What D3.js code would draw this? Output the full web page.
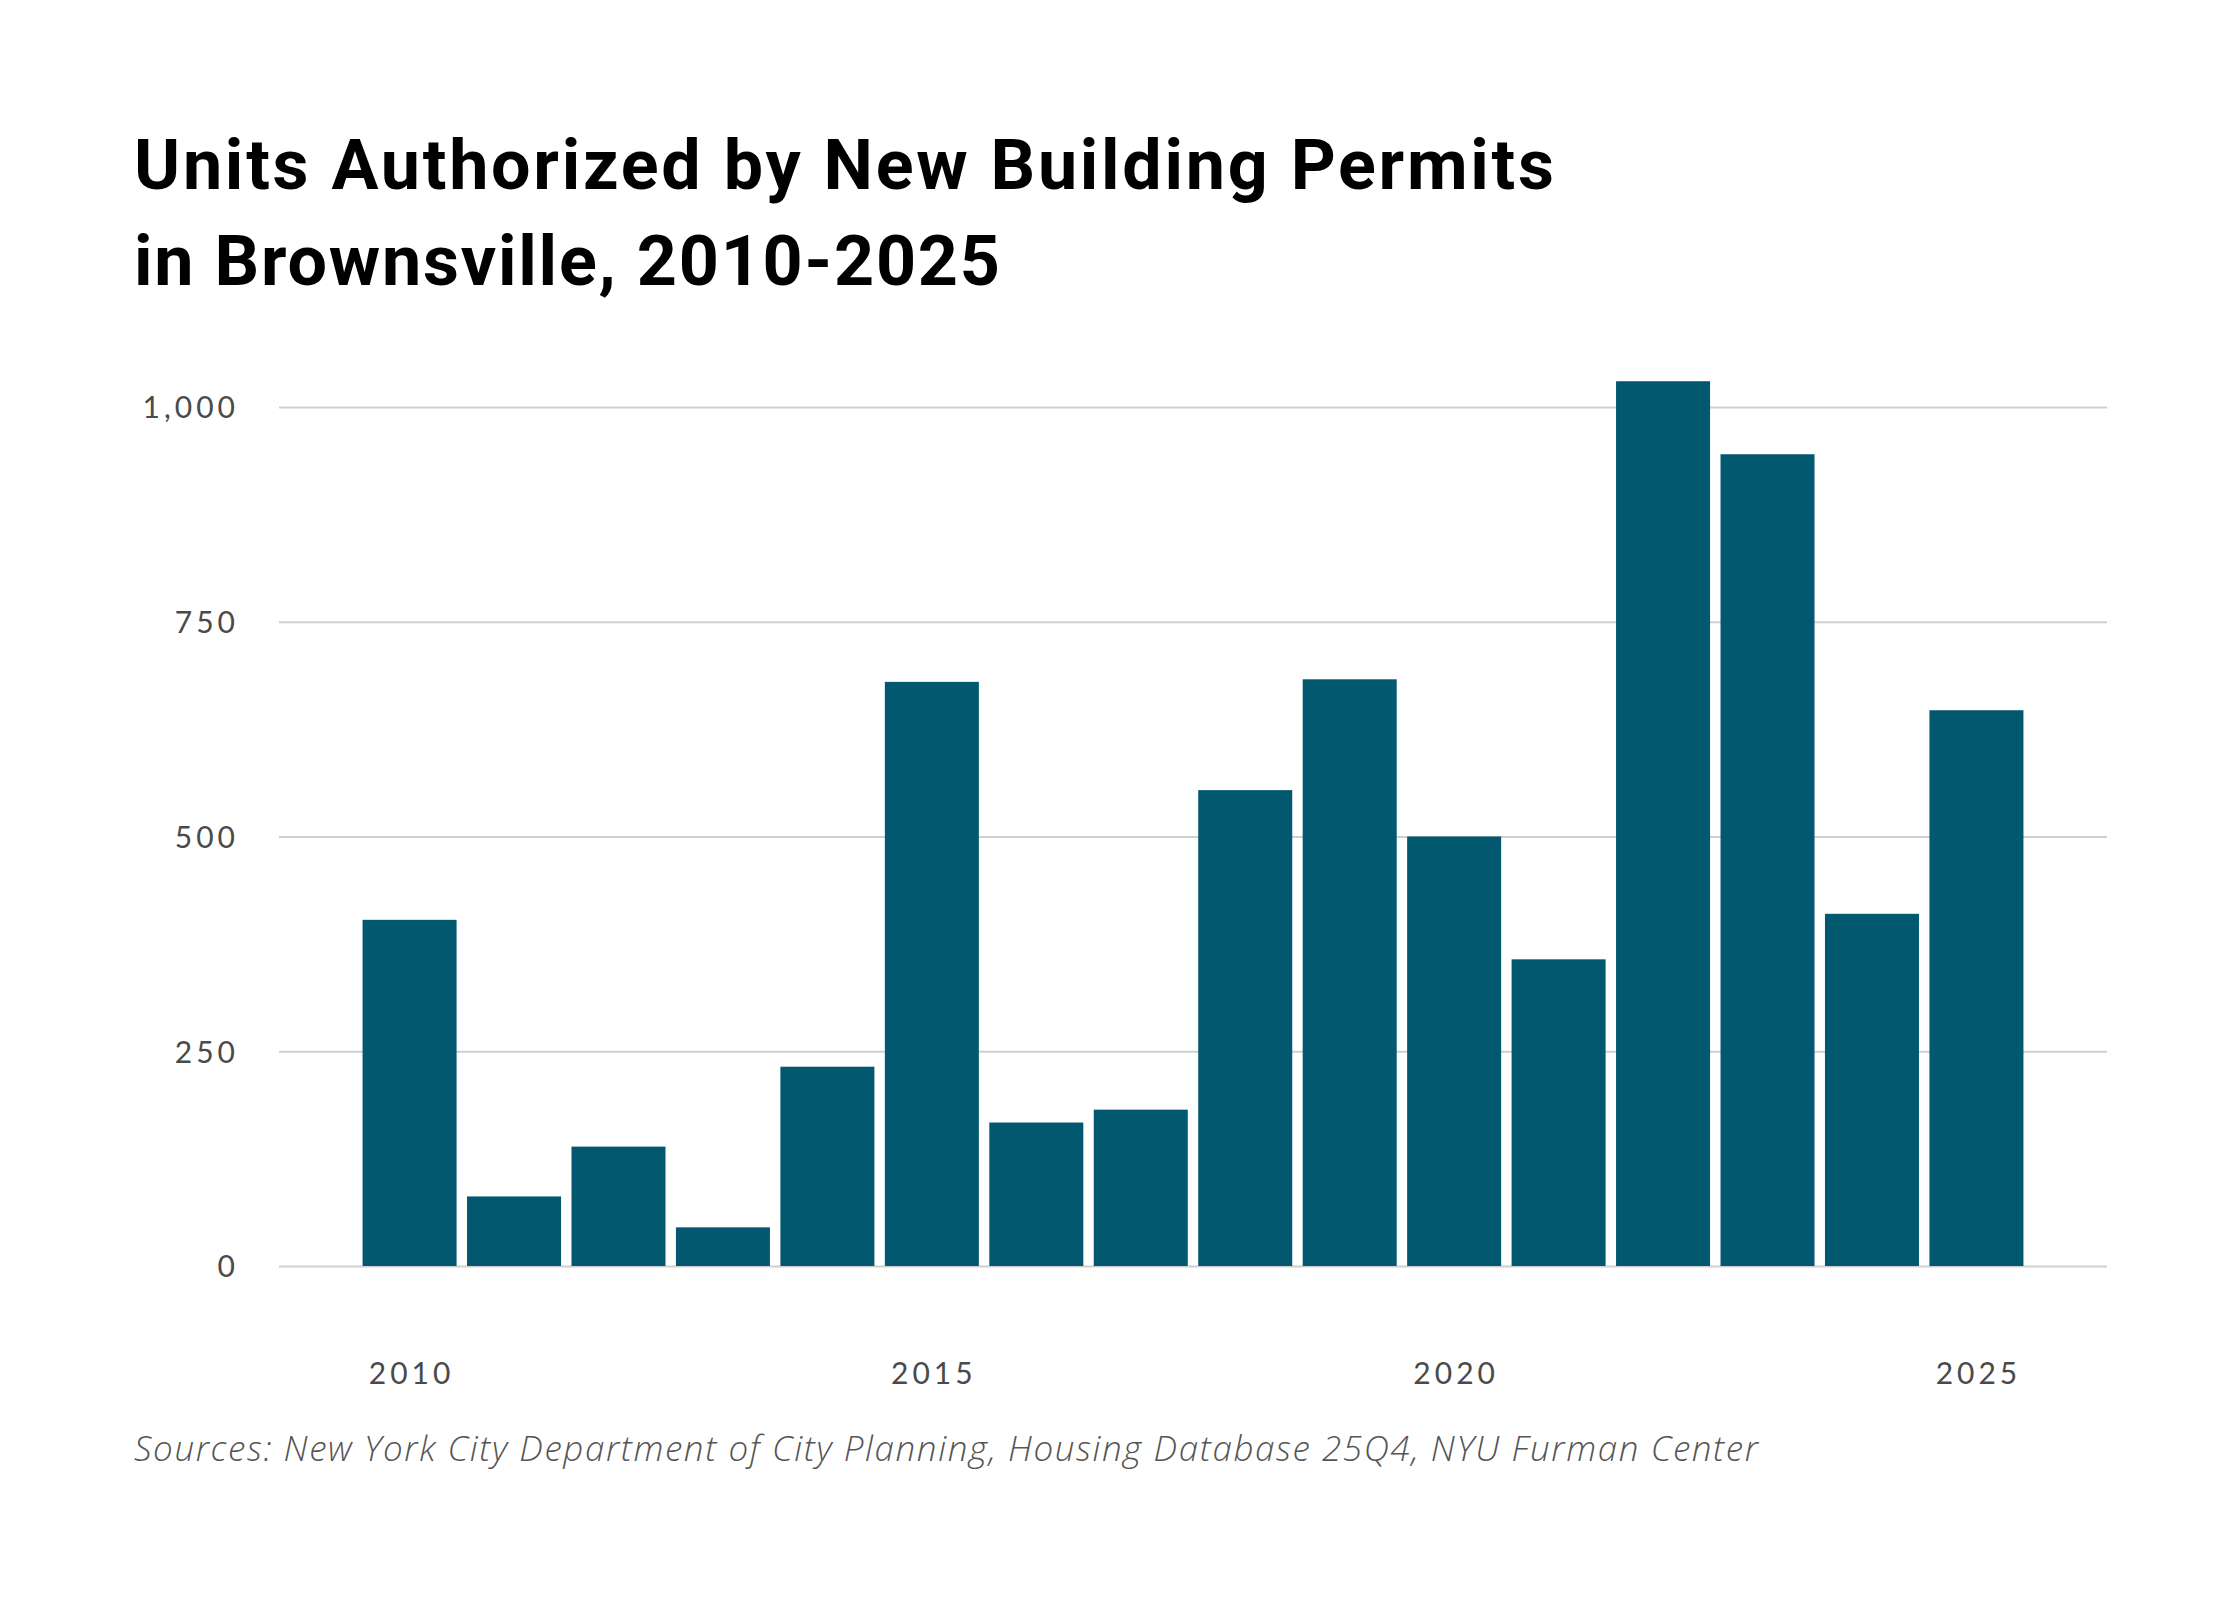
<!DOCTYPE html>
<html>
<head>
<meta charset="utf-8">
<script src="https://cdn.jsdelivr.net/npm/d3@7"></script>
<style>
  html, body { margin: 0; padding: 0; background: #ffffff; }
  svg { display: block; }
</style>
</head>
<body>
<svg id="chart" width="2240" height="1600"></svg>
<script>
// ---- Data ----
const years = ["2010","2011","2012","2013","2014","2015","2016","2017","2018","2019","2020","2021","2022","2023","2024","2025"];
const units = [403, 81, 139, 45, 232, 680, 167, 182, 554, 683, 500, 357, 1030, 945, 410, 647];
const yTicks = [0, 250, 500, 750, 1000];
const xTickLabels = ["2010", "2015", "2020", "2025"];
const titleLines = ["Units Authorized by New Building Permits", "in Brownsville, 2010-2025"];
const sourceText = "Sources: New York City Department of City Planning, Housing Database 25Q4, NYU Furman Center";

// ---- Layout ----
const svg = d3.select("#chart");
const plotLeft = 279, plotRight = 2107, plotTop = 407, plotBottom = 1266;

const x = d3.scaleBand().domain(years).range([plotLeft, plotRight]).paddingInner(0.1).paddingOuter(0.8);
const y = d3.scaleLinear().domain([0, 1000]).range([plotBottom, plotTop]);

const tickFont = "Lato, 'Open Sans', sans-serif";

// Gridlines + y labels
const yAxis = d3.axisLeft(y).tickValues(yTicks).tickSize(-(plotRight - plotLeft)).tickFormat(d3.format(","));
const gy = svg.append("g").attr("transform", `translate(${plotLeft},0)`).call(yAxis);
gy.select(".domain").remove();
gy.selectAll(".tick line").attr("stroke", "#cfcfcf").attr("stroke-width", 2);
gy.selectAll(".tick text")
  .attr("x", -40).attr("dy", "0.36em")
  .attr("fill", "#4a4a4a")
  .style("font-family", tickFont)
  .style("font-size", "30px")
  .style("letter-spacing", "4px")
  .attr("text-anchor", "end");

// Bars
svg.append("g").selectAll("rect")
  .data(years.map((yr, i) => ({ yr, v: units[i] })))
  .join("rect")
  .attr("x", d => x(d.yr))
  .attr("width", x.bandwidth())
  .attr("y", d => y(d.v))
  .attr("height", d => y(0) - y(d.v))
  .attr("fill", "#02596f");

// X axis labels
const xAxis = d3.axisBottom(x).tickValues(xTickLabels).tickSize(0);
const gx = svg.append("g").attr("transform", `translate(0,${plotBottom})`).call(xAxis);
gx.select(".domain").remove();
gx.selectAll(".tick text")
  .attr("y", 118).attr("dy", 0).attr("dx", 2)
  .attr("fill", "#4a4a4a")
  .style("font-family", tickFont)
  .style("font-size", "30px")
  .style("letter-spacing", "4px");

// Title
const titleTargets = [1420, 866];
svg.append("g").selectAll("text")
  .data(titleLines)
  .join("text")
  .attr("x", 134)
  .attr("y", (d, i) => 189 + i * 96)
  .attr("fill", "#000000")
  .style("font-family", "Roboto, 'Open Sans', sans-serif")
  .style("font-weight", 700)
  .style("font-size", "70px")
  .text(d => d)
  .each(function(d, i) {
    const w = this.getComputedTextLength();
    if (Math.abs(w - titleTargets[i]) > 4) {
      d3.select(this).attr("textLength", titleTargets[i]).attr("lengthAdjust", "spacing");
    }
  });

// Source
svg.append("text")
  .attr("x", 134)
  .attr("y", 1461)
  .attr("fill", "#555555")
  .style("font-family", "'Open Sans', Lato, sans-serif")
  .style("font-style", "italic")
  .style("font-weight", 300)
  .style("font-size", "35px")
  .text(sourceText)
  .each(function() {
    const w = this.getComputedTextLength();
    if (Math.abs(w - 1624) > 4) {
      d3.select(this).attr("textLength", 1624).attr("lengthAdjust", "spacing");
    }
  });
</script>
</body>
</html>
